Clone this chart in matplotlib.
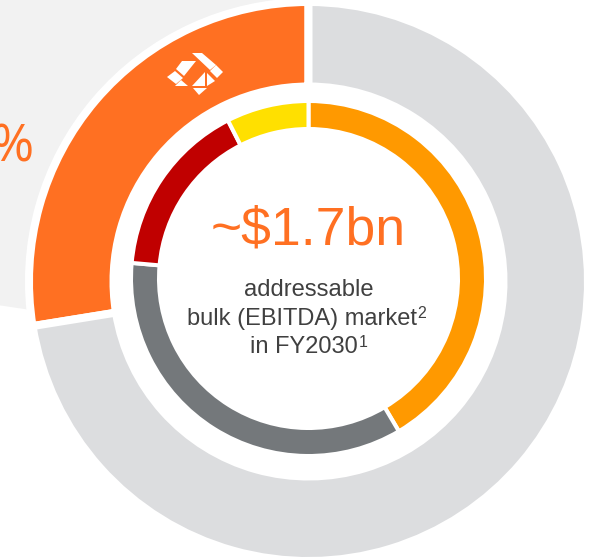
import matplotlib
matplotlib.use('Agg')
import matplotlib.pyplot as plt
from matplotlib.patches import Wedge, Circle, Polygon

W, H = 590, 557

outer_shares = [27.55, 72.45]
outer_colors = ['#FF7022', '#DCDDDF']
inner_shares = [41.5, 34.9, 16.1, 7.5]
inner_colors = ['#FF9900', '#74787B', '#C00000', '#FFE000']

headline = '~$1.7bn'
pct_label = '27%'
ORANGE = '#FF7022'
TEXT = '#404040'

# logo pieces in pixels of the picture
logo = [
    [(192, 53), (202, 53), (216, 65), (210, 70)],
    [(210, 71), (216, 65), (223, 72), (217, 78)],
    [(182, 61), (196, 61), (184, 76), (176, 69)],
    [(167, 77), (175, 71), (183, 78), (176, 84)],
    [(175, 86), (181, 80), (188, 86)],
    [(192, 86), (205, 72), (205, 86)],
    [(207, 73), (215, 81), (207, 86)],
    [(193, 88), (207, 88), (199, 95)],
]

fig = plt.figure(figsize=(W / 100, H / 100), dpi=100)
ax = fig.add_axes([0, 0, 1, 1])

cx, cy = 308.5, H - 281.5
cy2 = H - 278.5

# pale fan behind the orange slice
ax.add_patch(Wedge((cx, cy - 70), 900, 90, 171.5, fc='#F2F2F2', ec='none', zorder=1))
ax.add_patch(Circle((cx, cy), 283, fc='white', ec='none', zorder=2))

ax.pie(outer_shares, colors=outer_colors, startangle=90, counterclock=True,
       center=(cx, cy), radius=279.5,
       wedgeprops=dict(width=84.5, edgecolor='white', linewidth=5.76, zorder=3))
ax.pie(inner_shares, colors=inner_colors, startangle=90, counterclock=False,
       center=(cx, cy2), radius=177.5,
       wedgeprops=dict(width=28, edgecolor='white', linewidth=2.9, zorder=4))

for pts in logo:
    ax.add_patch(Polygon([(x, H - y) for x, y in pts], fc='white', ec='none', zorder=5))

ax.set_xlim(0, W)
ax.set_ylim(0, H)
ax.set_aspect('auto')
ax.axis('off')

sans = 'Liberation Sans'
ax.text(35, H - 161, pct_label, ha='right', va='baseline', color=ORANGE,
        fontsize=37, family='Open Sans', zorder=2)
ax.text(308.5, H - 245, headline, ha='center', va='baseline', color=ORANGE,
        fontsize=38.5, family=sans, zorder=6)
ax.text(308.5, H - 296, 'addressable', ha='center', va='baseline', color=TEXT,
        fontsize=17.1, family=sans, zorder=6)
ax.text(187, H - 325, 'bulk (EBITDA) market', ha='left', va='baseline', color=TEXT,
        fontsize=17, family=sans, zorder=6)
ax.text(417, H - 318.5, '2', ha='left', va='baseline', color=TEXT, fontsize=11.5, family=sans, zorder=6)
ax.text(250, H - 353, 'in FY2030', ha='left', va='baseline', color=TEXT,
        fontsize=17, family=sans, zorder=6)
ax.text(359, H - 347, '1', ha='left', va='baseline', color=TEXT, fontsize=11.5, family=sans, zorder=6)

fig.savefig('out.png', dpi=100, facecolor='white')
